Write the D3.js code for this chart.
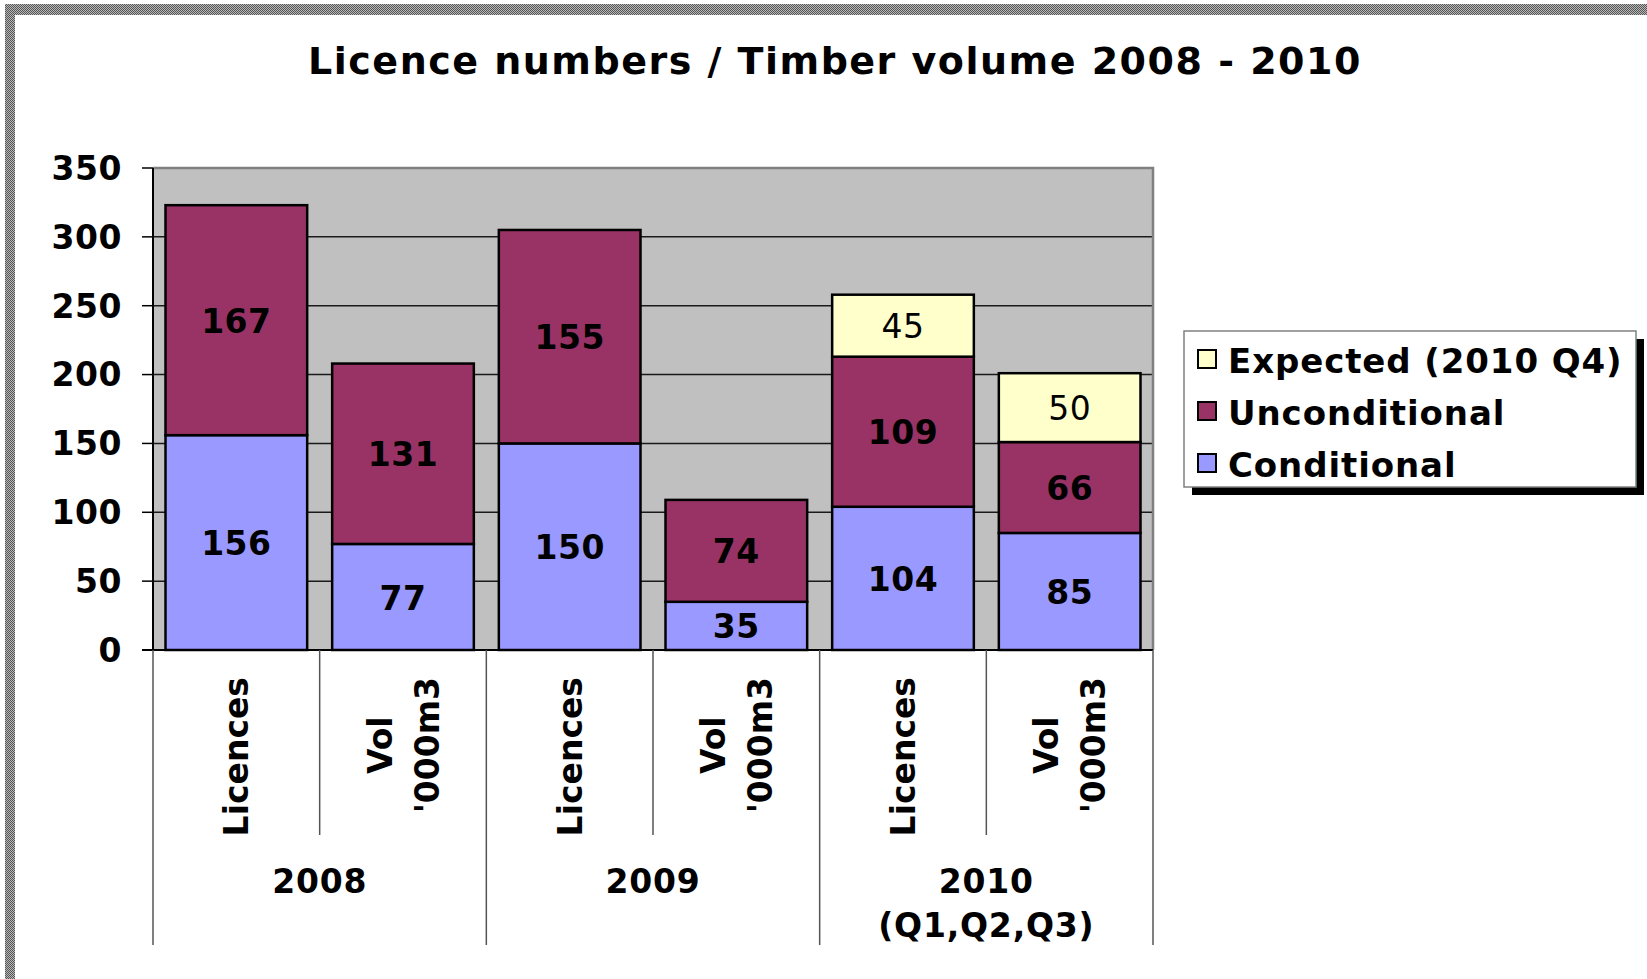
<!DOCTYPE html>
<html>
<head>
<meta charset="utf-8">
<script src="https://cdn.jsdelivr.net/npm/d3@7"></script>
<style>
  body { margin: 0; background: #fff; }
  svg { display: block; font-family: Verdana, "DejaVu Sans", sans-serif; }
</style>
</head>
<body>
<svg id="chart" width="1647" height="979"></svg>
<script>
// Chart data.
var groups = ["2008", "2009", "2010\n(Q1,Q2,Q3)"];
var subLabels = ["Licences", "Vol\n'000m3", "Licences", "Vol\n'000m3", "Licences", "Vol\n'000m3"];
var conditional = [156, 77, 150, 35, 104, 85];
var unconditional = [167, 131, 155, 74, 109, 66];
var expected = [0, 0, 0, 0, 45, 50];
var seriesNames = ["Conditional", "Unconditional", "Expected (2010 Q4)"];
var seriesColors = ["#9999ff", "#993366", "#ffffcc"];
var yTicks = [0, 50, 100, 150, 200, 250, 300, 350];

var svg = d3.select('#chart');
var plotL = 153, plotR = 1153, plotT = 168, plotB = 650;

// Hatched grey frame on top and left.
var pat = svg.append('defs').append('pattern')
  .attr('id', 'hatch').attr('width', 2).attr('height', 2)
  .attr('patternUnits', 'userSpaceOnUse');
pat.append('rect').attr('width', 2).attr('height', 2).attr('fill', '#b8b8b8');
pat.append('rect').attr('width', 1).attr('height', 1).attr('fill', '#555');
pat.append('rect').attr('x', 1).attr('y', 1).attr('width', 1).attr('height', 1).attr('fill', '#555');
svg.append('rect').attr('x', 5).attr('y', 4).attr('width', 1642).attr('height', 11).attr('fill', 'url(#hatch)');
svg.append('rect').attr('x', 5).attr('y', 4).attr('width', 10).attr('height', 975).attr('fill', 'url(#hatch)');

// Scales.
var x = d3.scaleBand().domain(d3.range(6)).range([plotL, plotR])
  .paddingInner(0.15).paddingOuter(0.075);
var y = d3.scaleLinear().domain([0, 350]).range([plotB, plotT]);

// Title.
svg.append('text')
  .attr('x', 835).attr('y', 74)
  .attr('text-anchor', 'middle')
  .style('font-size', '38px').style('font-weight', 'bold')
  .style('letter-spacing', '1.5px')
  .text('Licence numbers / Timber volume 2008 - 2010');

// Plot area.
svg.append('rect')
  .attr('x', plotL).attr('y', plotT)
  .attr('width', plotR - plotL).attr('height', plotB - plotT)
  .attr('fill', '#c0c0c0');

// Gridlines.
svg.append('g').selectAll('line')
  .data(yTicks.filter(function(d) { return d > 0 && d < 350; }))
  .enter().append('line')
  .attr('x1', plotL).attr('x2', plotR)
  .attr('y1', function(d) { return y(d); })
  .attr('y2', function(d) { return y(d); })
  .attr('stroke', '#1a1a1a').attr('stroke-width', 1.5);

// Top and right border of the plot.
svg.append('path')
  .attr('d', 'M' + plotL + ',' + plotT + 'H' + plotR + 'V' + plotB)
  .attr('fill', 'none').attr('stroke', '#808080').attr('stroke-width', 2.5);

// Stacked bars.
var rows = d3.range(6).map(function(i) {
  return { i: i, c: conditional[i], u: unconditional[i], e: expected[i] };
});
var stack = d3.stack().keys(['c', 'u', 'e'])(rows);

var layers = svg.append('g').selectAll('g')
  .data(stack).enter().append('g')
  .attr('fill', function(d, k) { return seriesColors[k]; });

layers.selectAll('rect')
  .data(function(d) { return d.filter(function(p) { return p[1] > p[0]; }); })
  .enter().append('rect')
  .attr('x', function(p) { return x(p.data.i); })
  .attr('y', function(p) { return y(p[1]); })
  .attr('width', x.bandwidth())
  .attr('height', function(p) { return y(p[0]) - y(p[1]); })
  .attr('stroke', '#000').attr('stroke-width', 2.5);

// Value labels inside segments.
stack.forEach(function(layer, k) {
  svg.append('g').selectAll('text')
    .data(layer.filter(function(p) { return p[1] > p[0]; }))
    .enter().append('text')
    .attr('x', function(p) { return x(p.data.i) + x.bandwidth() / 2; })
    .attr('y', function(p) { return (y(p[0]) + y(p[1])) / 2; })
    .attr('dy', '0.38em')
    .attr('text-anchor', 'middle')
    .style('font-size', '33px')
    .style('font-weight', k == 2 ? 'normal' : 'bold')
    .style('letter-spacing', '0.5px')
    .text(function(p) { return p[1] - p[0]; });
});

// Y axis.
var yAxis = svg.append('g');
yAxis.append('line')
  .attr('x1', plotL).attr('x2', plotL).attr('y1', plotT).attr('y2', plotB)
  .attr('stroke', '#000').attr('stroke-width', 2);
yAxis.selectAll('line.tick')
  .data(yTicks).enter().append('line')
  .attr('class', 'tick')
  .attr('x1', plotL - 11).attr('x2', plotL)
  .attr('y1', function(d) { return y(d); })
  .attr('y2', function(d) { return y(d); })
  .attr('stroke', '#000').attr('stroke-width', 1.5);
yAxis.selectAll('text')
  .data(yTicks).enter().append('text')
  .attr('x', 122)
  .attr('y', function(d) { return y(d); })
  .attr('dy', '0.36em')
  .attr('text-anchor', 'end')
  .style('font-size', '33px').style('font-weight', 'bold')
  .style('letter-spacing', '0.5px')
  .text(function(d) { return d; });

// X axis line.
svg.append('line')
  .attr('x1', plotL - 11).attr('x2', plotR).attr('y1', plotB).attr('y2', plotB)
  .attr('stroke', '#000').attr('stroke-width', 2);

// Category separators below the axis.
var step = x.step();
var seps = svg.append('g').attr('stroke', '#555').attr('stroke-width', 1.5);
d3.range(7).forEach(function(k) {
  var sx = plotL + k * step;
  seps.append('line')
    .attr('x1', sx).attr('x2', sx).attr('y1', plotB)
    .attr('y2', k % 2 == 0 ? 945 : 835);
});

// Rotated sub-category labels.
var subG = svg.append('g');
subLabels.forEach(function(label, i) {
  var lines = label.split('\n');
  var cx = x(i) + x.bandwidth() / 2;
  var lh = 47;
  var t = subG.append('text')
    .attr('transform', 'translate(' + cx + ',677) rotate(-90)')
    .style('font-size', '33px').style('font-weight', 'bold');
  lines.forEach(function(s, j) {
    t.append('tspan').attr('x', 0)
      .attr('y', (j - (lines.length - 1) / 2) * lh + 12)
      .text(s);
  });
  // align the block to the top, centring the lines on each other
  var lens = [];
  t.selectAll('tspan').each(function() { lens.push(this.getComputedTextLength()); });
  var maxLen = d3.max(lens);
  t.selectAll('tspan')
    .attr('x', -maxLen / 2)
    .attr('text-anchor', 'middle');
});

// Group labels.
groups.forEach(function(g, k) {
  var gx = plotL + (2 * k + 1) * step;
  var t = svg.append('text')
    .attr('text-anchor', 'middle')
    .style('font-size', '33px').style('font-weight', 'bold')
    .style('letter-spacing', '0.8px');
  g.split('\n').forEach(function(s, j) {
    t.append('tspan').attr('x', gx).attr('y', 893 + j * 44).text(s);
  });
});

// Legend with drop shadow.
var lg = svg.append('g');
lg.append('rect')
  .attr('x', 1192).attr('y', 339).attr('width', 452).attr('height', 156)
  .attr('fill', '#000');
lg.append('rect')
  .attr('x', 1184).attr('y', 331).attr('width', 452).attr('height', 156)
  .attr('fill', '#fff').attr('stroke', '#808080').attr('stroke-width', 1.5);

var legendOrder = [2, 1, 0];
legendOrder.forEach(function(k, r) {
  var ly = 373 + r * 52;
  lg.append('rect')
    .attr('x', 1198).attr('y', ly - 23).attr('width', 18).attr('height', 18)
    .attr('fill', seriesColors[k]).attr('stroke', '#000').attr('stroke-width', 2);
  lg.append('text')
    .attr('x', 1228).attr('y', ly)
    .style('font-size', '34px').style('font-weight', 'bold')
    .style('letter-spacing', '0.9px')
    .text(seriesNames[k]);
});
</script>
</body>
</html>
